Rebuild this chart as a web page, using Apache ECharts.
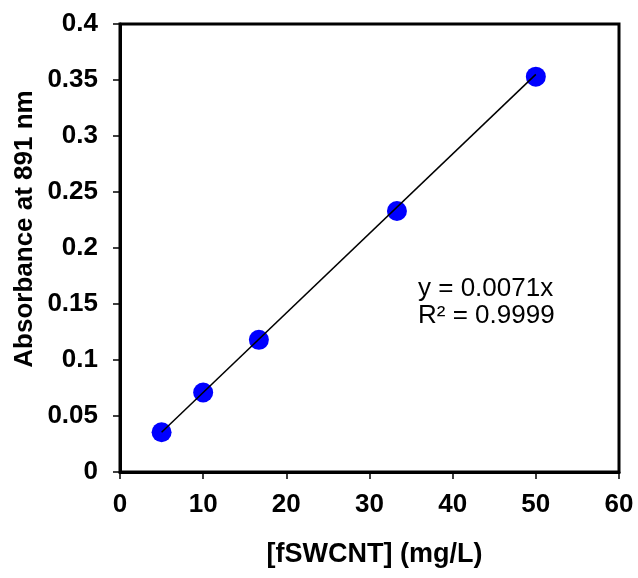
<!DOCTYPE html>
<html style="height: 100%">
<head>
  <meta charset="utf-8">
  <title>Absorbance calibration</title>
  <style>
    body { margin: 0; background: #fff; }
    #container { width: 638px; height: 578px; }
  </style>
</head>
<body>
  <div id="container"></div>
  <script src="https://cdn.jsdelivr.net/npm/echarts@6/dist/echarts.min.js"></script>
  <script>
    // concentrations (mg/L) and measured absorbance
    var conc = [5, 10, 16.7, 33.3, 50];
    var absorb = [0.0355, 0.071, 0.118, 0.233, 0.353];
    // linear trendline endpoints
    var trendX = [5, 50];
    var trendY = [0.0355, 0.355];
    var eqLines = ['y = 0.0071x', 'R\u00b2 = 0.9999'];

    var font = 'Arial, "Liberation Sans", sans-serif';
    var chart = echarts.init(document.getElementById('container'), null, { renderer: 'canvas' });

    var points = conc.map(function (c, i) { return [c, absorb[i]]; });
    var trend = trendX.map(function (x, i) { return [x, trendY[i]]; });

    var labelStyle = {
      fontFamily: font, fontWeight: 'bold', fontSize: 26, color: '#000'
    };

    var option = {
      backgroundColor: '#fff',
      animation: false,
      grid: {
        left: 120, right: 19, top: 24, bottom: 106,
        show: true, borderColor: '#000', borderWidth: 3
      },
      xAxis: {
        type: 'value', min: 0, max: 60, interval: 10,
        name: '[fSWCNT] (mg/L)',
        nameLocation: 'middle',
        nameGap: 69,
        nameTextStyle: { fontFamily: font, fontWeight: 'bold', fontSize: 27, color: '#000', padding: [0, 0, 0, 10] },
        axisLine: { lineStyle: { color: '#000', width: 3 } },
        axisTick: { inside: false, length: 7, lineStyle: { color: '#000', width: 1.5 } },
        axisLabel: Object.assign({ margin: 20 }, labelStyle),
        splitLine: { show: false }
      },
      yAxis: {
        type: 'value', min: 0, max: 0.4, interval: 0.05,
        axisLine: { show: true, lineStyle: { color: '#000', width: 3 } },
        axisTick: { show: true, inside: false, length: 7, lineStyle: { color: '#000', width: 1.5 } },
        axisLabel: Object.assign({ margin: 22 }, labelStyle),
        splitLine: { show: false }
      },
      graphic: [
        {
          type: 'text', x: 25, y: 229, rotation: Math.PI / 2,
          style: {
            text: 'Absorbance at 891 nm', x: 0, y: 0,
            textAlign: 'center', textVerticalAlign: 'middle',
            font: 'bold 26px ' + font, fill: '#000'
          }
        },
        {
          type: 'text', left: 418, top: 276,
          style: { text: eqLines[0], font: '26px ' + font, fill: '#000' }
        },
        {
          type: 'text', left: 418, top: 303,
          style: { text: eqLines[1], font: '26px ' + font, fill: '#000' }
        }
      ],
      series: [
        {
          type: 'scatter',
          data: points,
          symbol: 'circle',
          symbolSize: 20,
          itemStyle: { color: '#0000ff', opacity: 1 },
          z: 2
        },
        {
          type: 'line',
          data: trend,
          showSymbol: false,
          lineStyle: { color: '#000', width: 1.5 },
          z: 3
        }
      ]
    };

    chart.setOption(option);
  </script>
</body>
</html>
